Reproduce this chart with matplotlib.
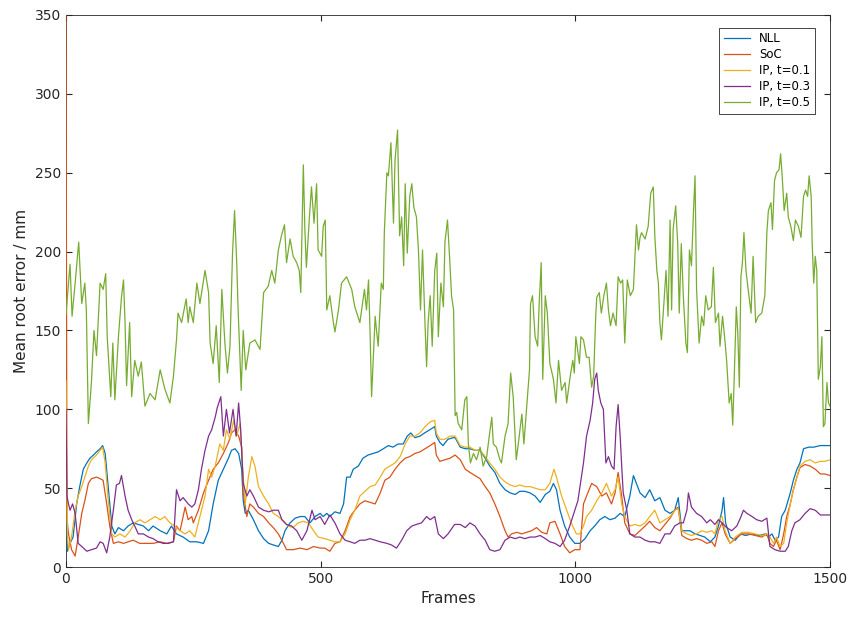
import matplotlib.pyplot as plt

# 各手法の平均二乗根誤差 (フレームごと)
nll_frames = [0, 3, 8, 14, 21, 27, 34, 41, 47, 54, 60, 67, 72, 77, 83, 90, 96, 103, 113, 122, 132, 142, 152, 162, 171, 185, 198, 207, 217, 230, 243, 257, 270, 280, 289, 299, 309, 319, 325, 332, 339, 345, 348, 352, 358, 368, 378, 388, 398, 407, 417, 424, 430, 440, 450, 460, 469, 479, 489, 499, 505, 512, 518, 528, 538, 545, 551, 558, 564, 574, 583, 593, 603, 613, 623, 633, 642, 652, 662, 670, 677, 685, 695, 704, 714, 724, 727, 734, 740, 750, 760, 764, 774, 784, 793, 803, 813, 823, 832, 842, 852, 862, 872, 882, 891, 901, 911, 921, 931, 941, 950, 957, 963, 970, 979, 989, 999, 1009, 1019, 1029, 1038, 1048, 1058, 1068, 1078, 1088, 1097, 1107, 1114, 1120, 1127, 1137, 1146, 1156, 1166, 1176, 1186, 1195, 1202, 1209, 1215, 1225, 1235, 1245, 1254, 1265, 1274, 1281, 1288, 1291, 1295, 1304, 1314, 1324, 1334, 1347, 1360, 1373, 1379, 1386, 1392, 1399, 1405, 1412, 1422, 1428, 1435, 1441, 1448, 1458, 1468, 1481, 1500]
nll_err = [40, 10, 15, 19, 40, 51, 62, 66, 69, 71, 73, 75, 77, 72, 51, 26, 21, 25, 23, 26, 28, 27, 26, 23, 26, 23, 21, 26, 21, 19, 16, 16, 15, 23, 40, 55, 62, 69, 74, 75, 72, 62, 42, 34, 36, 30, 23, 18, 15, 14, 13, 17, 23, 28, 31, 32, 32, 28, 32, 34, 32, 34, 32, 35, 34, 40, 57, 57, 62, 64, 69, 71, 72, 73, 75, 77, 76, 78, 78, 83, 85, 82, 83, 85, 87, 89, 83, 79, 77, 81, 82, 82, 76, 75, 75, 74, 74, 69, 64, 60, 53, 49, 47, 46, 48, 48, 47, 45, 41, 46, 48, 53, 49, 36, 26, 19, 15, 15, 18, 23, 26, 30, 32, 30, 31, 34, 32, 45, 58, 53, 47, 44, 49, 42, 44, 36, 34, 36, 44, 23, 23, 23, 21, 20, 19, 16, 19, 26, 36, 44, 28, 19, 17, 21, 20, 21, 20, 21, 19, 21, 17, 19, 32, 36, 47, 55, 62, 66, 75, 76, 76, 77, 77]

soc_frames = [0, 2, 5, 11, 18, 24, 31, 37, 44, 50, 60, 67, 73, 80, 86, 93, 103, 113, 122, 132, 145, 158, 171, 185, 198, 211, 217, 224, 234, 240, 247, 250, 260, 270, 280, 289, 299, 309, 319, 325, 332, 339, 345, 348, 355, 361, 368, 378, 388, 398, 407, 417, 427, 433, 446, 460, 473, 486, 499, 508, 518, 528, 538, 548, 558, 567, 577, 587, 597, 607, 617, 626, 636, 646, 656, 666, 675, 685, 695, 705, 715, 724, 727, 734, 744, 754, 764, 774, 784, 793, 803, 813, 823, 832, 842, 852, 862, 868, 875, 885, 895, 904, 914, 924, 934, 944, 950, 960, 970, 979, 989, 999, 1009, 1016, 1022, 1032, 1042, 1052, 1061, 1071, 1078, 1084, 1091, 1097, 1107, 1117, 1127, 1137, 1146, 1156, 1166, 1176, 1186, 1195, 1202, 1209, 1219, 1228, 1238, 1248, 1258, 1268, 1274, 1281, 1288, 1294, 1304, 1314, 1327, 1340, 1353, 1366, 1376, 1382, 1389, 1395, 1402, 1409, 1415, 1422, 1428, 1435, 1441, 1451, 1461, 1471, 1481, 1490, 1500]
soc_err = [352, 30, 21, 11, 7, 19, 34, 42, 53, 56, 57, 56, 55, 40, 26, 15, 16, 15, 16, 17, 15, 15, 15, 16, 15, 16, 26, 23, 38, 30, 32, 28, 36, 47, 55, 62, 66, 72, 79, 85, 87, 83, 76, 47, 32, 40, 38, 34, 32, 28, 25, 21, 15, 11, 11, 12, 11, 13, 12, 12, 10, 15, 16, 23, 32, 36, 40, 42, 41, 40, 47, 55, 57, 62, 66, 69, 70, 72, 73, 75, 77, 79, 71, 67, 68, 69, 71, 68, 62, 60, 58, 56, 51, 47, 40, 32, 23, 19, 21, 22, 21, 22, 23, 25, 22, 21, 28, 29, 21, 13, 9, 11, 11, 40, 45, 53, 51, 45, 47, 40, 47, 60, 45, 28, 21, 20, 23, 26, 29, 25, 23, 27, 31, 36, 38, 20, 18, 17, 18, 17, 15, 16, 13, 23, 28, 21, 15, 18, 21, 21, 20, 19, 21, 15, 13, 17, 11, 21, 32, 40, 49, 57, 63, 65, 64, 62, 59, 59, 58]

ip01_frames = [0, 3, 5, 11, 18, 24, 31, 37, 44, 50, 60, 67, 72, 77, 83, 90, 96, 106, 116, 126, 135, 145, 155, 165, 175, 185, 194, 204, 214, 224, 234, 243, 253, 263, 273, 280, 286, 293, 302, 309, 315, 322, 329, 335, 342, 347, 352, 358, 365, 371, 378, 388, 398, 407, 417, 427, 436, 446, 456, 466, 476, 486, 495, 508, 518, 528, 538, 548, 558, 567, 577, 587, 597, 607, 617, 626, 636, 646, 656, 666, 675, 685, 695, 705, 715, 724, 727, 734, 744, 754, 764, 774, 784, 793, 803, 813, 823, 832, 842, 852, 862, 872, 882, 891, 901, 911, 921, 931, 941, 950, 958, 963, 973, 983, 992, 1002, 1009, 1016, 1022, 1032, 1042, 1052, 1061, 1071, 1078, 1084, 1091, 1097, 1107, 1117, 1127, 1137, 1146, 1156, 1166, 1176, 1186, 1195, 1202, 1209, 1219, 1228, 1238, 1248, 1258, 1268, 1274, 1281, 1288, 1294, 1304, 1314, 1327, 1340, 1353, 1366, 1376, 1382, 1389, 1395, 1402, 1409, 1415, 1422, 1428, 1435, 1441, 1451, 1461, 1471, 1481, 1490, 1500]
ip01_err = [118, 20, 11, 19, 36, 45, 51, 57, 64, 68, 71, 74, 76, 66, 42, 21, 19, 21, 19, 23, 28, 30, 28, 30, 32, 30, 32, 28, 26, 23, 21, 23, 19, 32, 45, 62, 57, 64, 78, 74, 87, 81, 93, 83, 91, 62, 40, 57, 70, 64, 51, 45, 40, 34, 32, 29, 26, 25, 28, 29, 28, 23, 19, 18, 17, 16, 16, 21, 30, 36, 45, 48, 51, 52, 57, 62, 64, 66, 70, 78, 83, 83, 85, 89, 92, 93, 85, 81, 81, 83, 83, 77, 76, 76, 74, 74, 70, 66, 62, 57, 54, 52, 51, 52, 51, 51, 50, 49, 49, 53, 62, 57, 45, 36, 28, 21, 21, 26, 32, 36, 42, 47, 53, 45, 49, 57, 40, 32, 26, 27, 26, 28, 32, 36, 28, 30, 32, 36, 37, 23, 21, 20, 21, 23, 22, 23, 21, 30, 32, 23, 15, 19, 22, 22, 21, 20, 21, 19, 15, 19, 13, 15, 28, 40, 49, 57, 64, 67, 68, 66, 67, 67, 68]

ip03_frames = [0, 2, 5, 8, 13, 18, 24, 31, 41, 50, 60, 67, 73, 80, 86, 93, 99, 105, 109, 116, 122, 129, 135, 142, 152, 162, 171, 181, 191, 201, 211, 217, 224, 230, 240, 247, 253, 260, 266, 273, 280, 286, 293, 297, 304, 309, 315, 321, 328, 334, 339, 343, 348, 355, 361, 368, 378, 388, 398, 407, 417, 424, 433, 443, 453, 463, 473, 483, 489, 499, 508, 518, 528, 538, 548, 558, 567, 577, 587, 597, 607, 617, 630, 639, 649, 659, 669, 679, 688, 698, 708, 715, 724, 731, 741, 750, 763, 774, 784, 793, 803, 813, 823, 832, 842, 852, 862, 872, 882, 891, 901, 911, 921, 931, 941, 950, 960, 970, 979, 989, 999, 1005, 1012, 1016, 1022, 1029, 1034, 1038, 1042, 1045, 1050, 1055, 1060, 1065, 1071, 1076, 1080, 1084, 1088, 1091, 1094, 1101, 1107, 1117, 1127, 1137, 1146, 1156, 1166, 1176, 1186, 1195, 1205, 1212, 1219, 1222, 1228, 1238, 1248, 1258, 1265, 1274, 1281, 1288, 1297, 1307, 1317, 1324, 1330, 1337, 1347, 1356, 1366, 1376, 1382, 1392, 1402, 1412, 1418, 1425, 1431, 1441, 1451, 1461, 1471, 1481, 1490, 1500]
ip03_err = [100, 45, 40, 36, 40, 34, 15, 13, 10, 11, 12, 16, 15, 9, 19, 36, 52, 53, 58, 45, 36, 30, 26, 21, 21, 19, 18, 16, 15, 15, 16, 49, 42, 44, 40, 38, 40, 49, 62, 74, 83, 87, 95, 101, 108, 83, 100, 85, 100, 83, 104, 87, 53, 45, 49, 45, 38, 36, 35, 36, 36, 30, 27, 26, 23, 17, 23, 36, 30, 32, 27, 33, 28, 21, 17, 16, 15, 17, 17, 18, 17, 16, 15, 14, 12, 17, 23, 26, 27, 28, 32, 30, 32, 21, 18, 21, 27, 27, 25, 28, 26, 21, 17, 11, 10, 11, 17, 19, 18, 19, 18, 19, 19, 20, 18, 16, 15, 13, 17, 26, 36, 42, 57, 66, 83, 93, 104, 119, 123, 112, 104, 100, 66, 70, 64, 62, 89, 103, 83, 64, 47, 36, 21, 19, 19, 17, 16, 16, 15, 21, 21, 26, 28, 28, 36, 47, 38, 34, 32, 28, 30, 27, 30, 28, 25, 23, 26, 31, 36, 34, 32, 30, 29, 31, 13, 11, 10, 10, 13, 23, 28, 30, 34, 37, 36, 33, 33, 33]

ip05_frames = [0, 3, 8, 12, 18, 25, 31, 37, 40, 44, 50, 55, 60, 67, 73, 78, 81, 88, 92, 96, 103, 109, 113, 116, 119, 125, 129, 135, 142, 148, 155, 165, 175, 185, 194, 204, 211, 217, 220, 227, 236, 240, 243, 250, 257, 263, 273, 280, 283, 289, 295, 301, 306, 312, 317, 322, 327, 331, 335, 338, 344, 348, 353, 361, 371, 381, 388, 397, 404, 410, 417, 423, 429, 433, 440, 446, 453, 458, 461, 466, 469, 472, 478, 482, 487, 492, 495, 502, 505, 509, 512, 518, 525, 528, 535, 541, 551, 561, 567, 577, 586, 590, 594, 597, 600, 607, 610, 613, 619, 623, 625, 630, 633, 638, 643, 646, 651, 655, 659, 663, 666, 670, 675, 679, 683, 688, 692, 696, 700, 705, 708, 711, 715, 719, 724, 728, 731, 736, 741, 744, 749, 753, 757, 761, 764, 767, 770, 777, 783, 787, 790, 794, 800, 806, 813, 819, 826, 831, 836, 839, 845, 852, 855, 862, 868, 873, 878, 884, 888, 895, 899, 905, 910, 912, 916, 921, 926, 929, 933, 936, 941, 945, 950, 957, 962, 967, 973, 980, 983, 990, 995, 998, 1001, 1008, 1011, 1016, 1022, 1027, 1032, 1036, 1040, 1042, 1047, 1051, 1056, 1061, 1065, 1069, 1074, 1080, 1084, 1089, 1093, 1097, 1102, 1108, 1114, 1117, 1120, 1124, 1127, 1130, 1137, 1143, 1148, 1153, 1156, 1160, 1163, 1166, 1169, 1173, 1178, 1182, 1186, 1189, 1192, 1197, 1201, 1204, 1208, 1212, 1217, 1220, 1224, 1228, 1232, 1235, 1238, 1243, 1248, 1252, 1256, 1261, 1267, 1271, 1275, 1281, 1284, 1289, 1293, 1297, 1302, 1306, 1309, 1312, 1316, 1319, 1322, 1325, 1328, 1331, 1335, 1340, 1345, 1349, 1354, 1359, 1366, 1372, 1376, 1379, 1384, 1387, 1391, 1395, 1400, 1403, 1406, 1410, 1415, 1418, 1423, 1428, 1432, 1438, 1443, 1448, 1452, 1456, 1459, 1463, 1465, 1468, 1471, 1474, 1477, 1481, 1484, 1487, 1490, 1494, 1497, 1500]
ip05_err = [160, 172, 192, 159, 180, 206, 167, 180, 163, 91, 117, 150, 134, 180, 176, 186, 146, 108, 142, 106, 146, 171, 182, 155, 115, 155, 108, 131, 121, 130, 102, 110, 106, 125, 113, 104, 121, 144, 161, 155, 170, 155, 165, 155, 180, 167, 188, 174, 142, 129, 153, 117, 176, 142, 123, 140, 199, 226, 195, 163, 112, 150, 125, 142, 144, 138, 174, 178, 188, 180, 201, 210, 217, 193, 208, 197, 193, 188, 174, 255, 214, 190, 222, 241, 218, 243, 201, 197, 216, 220, 163, 172, 155, 149, 163, 180, 184, 176, 165, 155, 176, 163, 182, 149, 108, 159, 149, 140, 180, 176, 212, 250, 248, 269, 218, 258, 277, 210, 222, 191, 243, 199, 235, 243, 228, 222, 201, 163, 201, 153, 127, 155, 172, 140, 188, 199, 146, 180, 165, 206, 220, 197, 172, 163, 96, 98, 91, 87, 106, 108, 78, 66, 72, 68, 76, 64, 70, 83, 95, 78, 76, 68, 66, 83, 91, 123, 108, 68, 78, 97, 78, 104, 125, 167, 172, 146, 140, 167, 193, 119, 172, 161, 129, 119, 104, 131, 112, 117, 104, 121, 131, 123, 146, 129, 146, 144, 133, 133, 114, 121, 159, 171, 174, 161, 172, 180, 163, 153, 161, 153, 184, 180, 182, 142, 182, 172, 176, 197, 217, 201, 209, 212, 208, 216, 237, 241, 210, 188, 180, 155, 144, 163, 188, 159, 220, 163, 214, 229, 205, 161, 205, 172, 142, 136, 201, 191, 226, 248, 176, 142, 159, 153, 172, 163, 165, 190, 155, 161, 140, 159, 146, 131, 104, 110, 90, 121, 165, 148, 114, 184, 193, 212, 188, 174, 161, 197, 155, 159, 161, 172, 212, 226, 231, 214, 245, 250, 252, 262, 248, 226, 237, 222, 216, 207, 220, 216, 209, 235, 239, 235, 248, 235, 205, 180, 197, 188, 119, 127, 146, 89, 91, 117, 104, 102]

series = [
    (nll_frames, nll_err, 'NLL', '#0072BD'),
    (soc_frames, soc_err, 'SoC', '#D95319'),
    (ip01_frames, ip01_err, 'IP, t=0.1', '#EDB120'),
    (ip03_frames, ip03_err, 'IP, t=0.3', '#7E2F8E'),
    (ip05_frames, ip05_err, 'IP, t=0.5', '#77AC30'),
]

fig = plt.figure(figsize=(8.5, 6.17), dpi=100)
ax = fig.add_axes([0.0776, 0.081, 0.8989, 0.8947])

# 線は枠より手前に描く
for frames, err, name, color in series:
    ax.plot(frames, err, color=color, linewidth=0.9, label=name, zorder=3)

ax.set_xlim(0, 1500)
ax.set_ylim(0, 350)
ax.set_xticks([0, 500, 1000, 1500])
ax.set_yticks(range(0, 351, 50))
ax.tick_params(direction='in', length=4, labelsize=10, colors='#262626',
               top=True, right=True)
for s in ax.spines.values():
    s.set_color('#262626')
    s.set_linewidth(0.6)

ax.set_xlabel('Frames', fontsize=11, color='#262626')
ax.set_ylabel('Mean root error / mm', fontsize=11, color='#262626')

leg = ax.legend(loc='upper right', bbox_to_anchor=(0.988, 0.988), fontsize=8.5,
                fancybox=False, framealpha=1, edgecolor='#262626',
                handlelength=2.2, borderpad=0.4, labelspacing=0.25)
leg.get_frame().set_linewidth(0.6)
leg.set_zorder(5)

plt.savefig('out.png')
